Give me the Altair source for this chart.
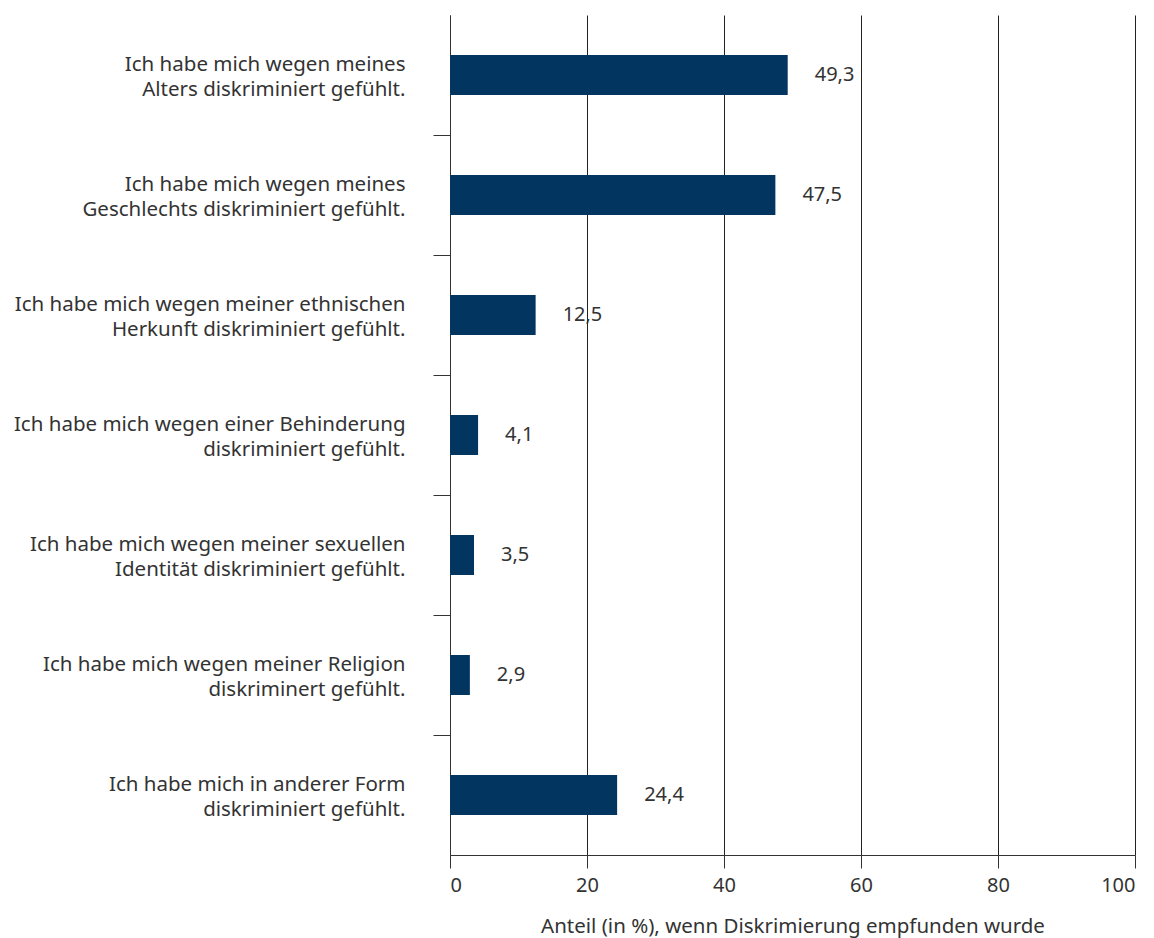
import altair as alt
import pandas as pd

categories = [
    "Ich habe mich wegen meines|Alters diskriminiert gefühlt.",
    "Ich habe mich wegen meines|Geschlechts diskriminiert gefühlt.",
    "Ich habe mich wegen meiner ethnischen|Herkunft diskriminiert gefühlt.",
    "Ich habe mich wegen einer Behinderung|diskriminiert gefühlt.",
    "Ich habe mich wegen meiner sexuellen|Identität diskriminiert gefühlt.",
    "Ich habe mich wegen meiner Religion|diskriminert gefühlt.",
    "Ich habe mich in anderer Form|diskriminiert gefühlt.",
]
values = [49.3, 47.5, 12.5, 4.1, 3.5, 2.9, 24.4]
value_labels = ["49,3", "47,5", "12,5", "4,1", "3,5", "2,9", "24,4"]
x_ticks = [0, 20, 40, 60, 80, 100]

df = pd.DataFrame({"cat": categories, "val": values, "lab": value_labels})

FONT = "Noto Sans"
TXT = "#333333"
BAR = "#02355F"

y_enc = alt.Y(
    "cat:N",
    sort=categories,
    scale=alt.Scale(paddingInner=0, paddingOuter=0),
    axis=alt.Axis(
        title=None,
        bandPosition=0,
        labelOffset=-10.5,
        labelExpr="split(datum.label, '|')",
        labelAlign="right",
        labelBaseline="middle",
        labelLineHeight=25,
        labelFontSize=20.5,
        labelFont=FONT,
        labelColor=TXT,
        labelPadding=28,
        labelLimit=0,
        tickSize=17,
        tickColor="#333333",
        tickOpacity={"condition": {"test": "datum.value == '" + categories[0] + "'", "value": 0}, "value": 1},
        domainColor="#333333",
        grid=False,
    ),
)

x_enc = alt.X(
    "val:Q",
    scale=alt.Scale(domain=[0, 100], nice=False),
    axis=alt.Axis(
        title="Anteil (in %), wenn Diskrimierung empfunden wurde",
        values=x_ticks,
        grid=True,
        gridColor="#222222",
        gridWidth=1,
        gridOpacity=1,
        tickSize=13,
        tickColor="#333333",
        domainColor="#333333",
        labelFontSize=20,
        labelFont=FONT,
        labelColor=TXT,
        labelPadding=7,
        titleFontSize=20.5,
        titleFont=FONT,
        titleFontWeight="normal",
        titleColor=TXT,
        titlePadding=21,
    ),
)

bars = alt.Chart(df).mark_bar(color=BAR, size=40).encode(x=x_enc, y=y_enc)
texts = alt.Chart(df).mark_text(
    align="left", baseline="middle", dx=27, fontSize=20, font=FONT, color=TXT
).encode(x="val:Q", y=alt.Y("cat:N", sort=categories), text="lab:N")

chart = (
    alt.layer(bars, texts)
    .properties(width=685, height=840, padding={"left": 5, "top": 7, "right": 5, "bottom": 5})
    .configure_view(stroke=None)
)

chart.save("out.html", embed_options={"renderer": "svg", "actions": False})
